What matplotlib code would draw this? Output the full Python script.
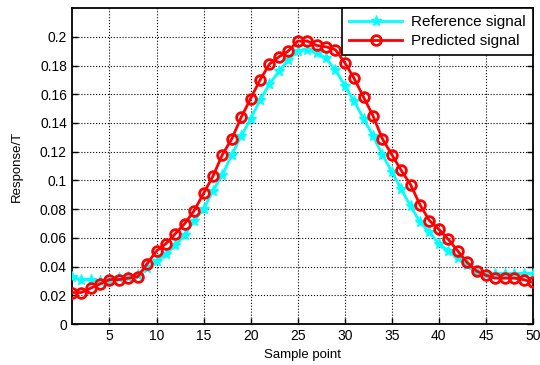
import numpy as np
import matplotlib.pyplot as plt

plt.rcParams['font.family'] = ['Liberation Sans', 'DejaVu Sans']

# sample index and the two response curves
sample = np.arange(1, 51)
reference = [0.033, 0.031, 0.031, 0.030, 0.031, 0.032, 0.033, 0.034, 0.039, 0.044,
             0.049, 0.055, 0.062, 0.072, 0.080, 0.093, 0.104, 0.118, 0.131, 0.143,
             0.156, 0.167, 0.176, 0.184, 0.190, 0.191, 0.189, 0.185, 0.177, 0.166,
             0.155, 0.143, 0.131, 0.118, 0.106, 0.094, 0.082, 0.071, 0.064, 0.056,
             0.051, 0.046, 0.041, 0.036, 0.035, 0.035, 0.035, 0.035, 0.035, 0.035]
predicted = [0.022, 0.022, 0.025, 0.028, 0.031, 0.031, 0.032, 0.033, 0.042, 0.051,
             0.056, 0.063, 0.070, 0.079, 0.091, 0.103, 0.118, 0.129, 0.144, 0.157,
             0.170, 0.181, 0.186, 0.190, 0.197, 0.197, 0.194, 0.193, 0.191, 0.182,
             0.171, 0.158, 0.145, 0.129, 0.118, 0.107, 0.097, 0.083, 0.072, 0.066,
             0.059, 0.051, 0.043, 0.037, 0.034, 0.032, 0.032, 0.032, 0.031, 0.029]

xticks = np.arange(5, 51, 5)
yticks = np.arange(0, 0.201, 0.02)

fig = plt.figure(figsize=(5.4, 3.65), dpi=100)
ax = fig.add_axes([0.133, 0.112, 0.854, 0.866])

ax.plot(sample, reference, color='#00ffff', lw=2, marker='*', ms=8,
        mec='#00ffff', mfc='#00ffff', label='Reference signal', zorder=3)
ax.plot(sample, predicted, color='red', lw=2, marker='o', ms=7,
        mec='red', mfc='none', mew=2, label='Predicted signal', zorder=4)

ax.set_xlim(1, 50)
ax.set_ylim(0, 0.22)
ax.set_xticks(xticks)
ax.set_yticks(yticks)
ax.set_yticklabels(['%g' % round(v, 2) for v in yticks])
ax.tick_params(direction='in', labelsize=10, length=4, top=False, right=True, width=1)
ax.grid(True, color='black', linestyle=':', linewidth=0.8)
for s in ax.spines.values():
    s.set_linewidth(1.3)

ax.set_xlabel('Sample point', fontsize=9.5, labelpad=4)
ax.set_ylabel('Response/T', fontsize=9.5, labelpad=12)

leg = ax.legend(loc='upper right', fontsize=11, fancybox=False, framealpha=1,
                borderaxespad=0, handlelength=3.5, borderpad=0.45, labelspacing=0.35,
                handletextpad=0.6)
leg.get_frame().set_edgecolor('black')
leg.get_frame().set_linewidth(1.2)

fig.savefig('out.png', dpi=100)
